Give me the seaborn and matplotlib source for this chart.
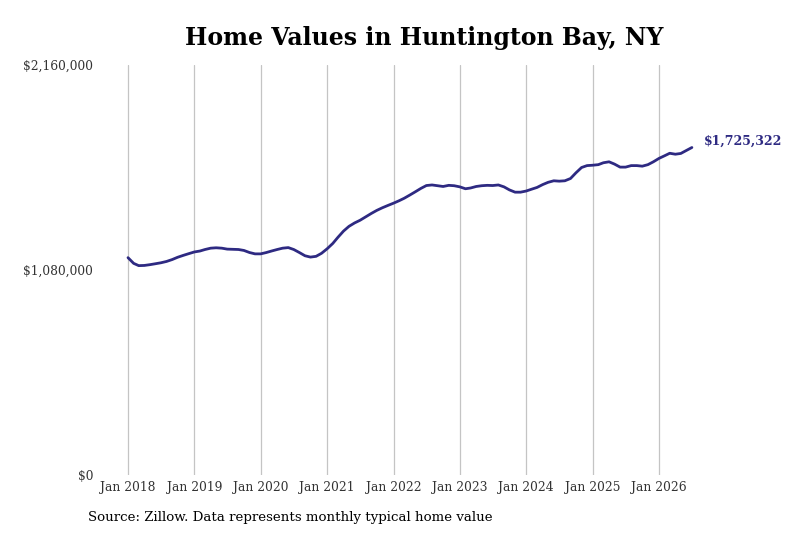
import matplotlib
matplotlib.use("Agg")
import matplotlib.pyplot as plt
import matplotlib.dates as mdates
from matplotlib.ticker import FuncFormatter
import seaborn as sns
import pandas as pd
import numpy as np

# Monthly typical home values (thousands of USD), Jan 2018 .. Jul 2026
values_2018 = [1145, 1115, 1103, 1104, 1108, 1113, 1118, 1125, 1135, 1147, 1157, 1166]
values_2019 = [1175, 1180, 1188, 1195, 1197, 1195, 1190, 1189, 1188, 1183, 1172, 1165]
values_2020 = [1165, 1172, 1180, 1188, 1195, 1198, 1188, 1172, 1155, 1148, 1152, 1168]
values_2021 = [1192, 1220, 1252, 1285, 1310, 1328, 1342, 1360, 1378, 1394, 1408, 1420]
values_2022 = [1432, 1445, 1458, 1475, 1492, 1510, 1525, 1528, 1524, 1520, 1526, 1524]
values_2023 = [1518, 1508, 1512, 1520, 1524, 1526, 1525, 1528, 1518, 1502, 1490, 1490]
values_2024 = [1496, 1506, 1515, 1530, 1542, 1550, 1548, 1550, 1562, 1592, 1620, 1630]
values_2025 = [1632, 1635, 1645, 1650, 1638, 1622, 1622, 1630, 1630, 1627, 1635, 1650]
values_2026 = [1668, 1682, 1695, 1690, 1694, 1710, 1725.322]

start_month = "2018-01-01"
y_ticks = [0, 1080000, 2160000]
x_tick_years = list(range(2018, 2027))
title = "Home Values in Huntington Bay, NY"
source = "Source: Zillow. Data represents monthly typical home value"

all_vals = (values_2018 + values_2019 + values_2020 + values_2021 + values_2022
            + values_2023 + values_2024 + values_2025 + values_2026)
dates = pd.date_range(start_month, periods=len(all_vals), freq="MS")
df = pd.DataFrame({"date": dates, "value": np.array(all_vals) * 1000})

sns.set_style("white")
plt.rcParams["font.family"] = ["DejaVu Serif"]

line_color = "#2e2a82"

fig = plt.figure(figsize=(8, 5.33), dpi=100)
W, H = 800, 533
ax_left, ax_right, ax_top, ax_bottom = 100, 720, 65, 475
ax = fig.add_axes([ax_left / W, (H - ax_bottom) / H,
                   (ax_right - ax_left) / W, (ax_bottom - ax_top) / H])

sns.lineplot(data=df, x="date", y="value", ax=ax, color=line_color, linewidth=2)

# x limits so that Jan 2018 / Jan 2026 fall at the right pixels
d0 = mdates.date2num(pd.Timestamp("2018-01-01"))
d1 = mdates.date2num(pd.Timestamp("2026-01-01"))
ppd = (659 - 128) / (d1 - d0)
ax.set_xlim(d0 - (128 - ax_left) / ppd, d0 + (ax_right - 128) / ppd)
ax.set_ylim(0, 2160000)

ax.set_xticks([mdates.date2num(pd.Timestamp(f"{y}-01-01")) for y in x_tick_years])
ax.set_xticklabels([f"Jan {y}" for y in x_tick_years])
ax.set_yticks(y_ticks)
ax.yaxis.set_major_formatter(FuncFormatter(lambda v, p: f"${v:,.0f}"))

ax.grid(axis="x", color="#c4c4c4", linewidth=0.9)
ax.grid(axis="y", visible=False)
for s in ax.spines.values():
    s.set_visible(False)
ax.tick_params(axis="both", length=0, labelsize=8.8, labelcolor="#333333")
ax.tick_params(axis="x", pad=4)
ax.tick_params(axis="y", pad=5)
ax.set_xlabel("")
ax.set_ylabel("")

last = df.iloc[-1]
ax.annotate(f"${last['value']:,.0f}", xy=(mdates.date2num(last["date"]), last["value"]),
            xytext=(12, 6), textcoords="offset pixels", ha="left", va="center",
            fontsize=9, fontweight="bold", color=line_color, annotation_clip=False)

fig.text(424 / W, 1 - 38 / H, title, ha="center", va="center",
         fontsize=17, fontweight="bold", color="black")
fig.text(88 / W, 1 - 517 / H, source, ha="left", va="center",
         fontsize=9.6, color="black")

fig.savefig("out.png", dpi=100)
